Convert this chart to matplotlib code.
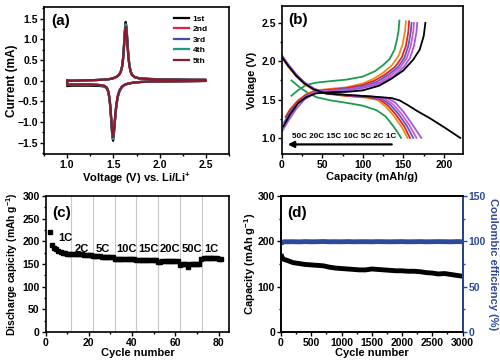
import numpy as np
import matplotlib
matplotlib.use("Agg")
import matplotlib.pyplot as plt
from matplotlib.ticker import MultipleLocator

plt.rcParams['font.family'] = ['Liberation Sans', 'DejaVu Sans']
plt.rcParams['font.weight'] = 'bold'
plt.rcParams['axes.labelweight'] = 'bold'
plt.rcParams['mathtext.fontset'] = 'custom'
plt.rcParams['mathtext.rm'] = 'Liberation Sans:bold'
plt.rcParams['mathtext.default'] = 'rm'

# ---------------- (a) CV data ----------------
cv_labels = ["1st", "2nd", "3rd", "4th", "5th"]
cv_colors = ["#000000", "#E8203C", "#3F4FA8", "#1E9A88", "#8A1A2E"]
VA = [1.00, 1.10, 1.20, 1.30, 1.40, 1.46, 1.50, 1.54, 1.56, 1.58, 1.595, 1.605, 1.615, 1.625,
      1.633, 1.642, 1.652, 1.662, 1.672, 1.685, 1.70, 1.73, 1.78, 1.88, 2.00, 2.15, 2.30, 2.50]
VC = [2.50, 2.30, 2.10, 1.90, 1.80, 1.72, 1.66, 1.62, 1.59, 1.565, 1.545, 1.53, 1.517, 1.506,
      1.497, 1.489, 1.480, 1.470, 1.459, 1.446, 1.43, 1.40, 1.34, 1.25, 1.15, 1.06, 1.01, 1.00]
IA = [
    [0.00, 0.00, 0.01, 0.015, 0.025, 0.04, 0.06, 0.10, 0.14, 0.22, 0.36, 0.56, 0.88, 1.24,
     1.42, 1.30, 0.95, 0.62, 0.40, 0.24, 0.15, 0.09, 0.06, 0.045, 0.035, 0.03, 0.025, 0.02],
    [0.00, 0.00, 0.01, 0.015, 0.025, 0.04, 0.06, 0.10, 0.14, 0.21, 0.34, 0.52, 0.82, 1.16,
     1.31, 1.20, 0.88, 0.58, 0.38, 0.23, 0.14, 0.085, 0.055, 0.04, 0.03, 0.025, 0.02, 0.02],
    [0.00, 0.00, 0.01, 0.015, 0.025, 0.04, 0.06, 0.10, 0.14, 0.22, 0.35, 0.54, 0.85, 1.20,
     1.37, 1.25, 0.92, 0.60, 0.39, 0.235, 0.145, 0.087, 0.057, 0.042, 0.032, 0.027, 0.022, 0.02],
    [0.00, 0.00, 0.01, 0.015, 0.025, 0.04, 0.06, 0.10, 0.14, 0.22, 0.35, 0.54, 0.84, 1.19,
     1.35, 1.24, 0.91, 0.60, 0.39, 0.235, 0.145, 0.087, 0.057, 0.042, 0.032, 0.027, 0.022, 0.02],
    [0.00, 0.00, 0.01, 0.015, 0.025, 0.04, 0.06, 0.10, 0.14, 0.21, 0.34, 0.52, 0.82, 1.15,
     1.30, 1.19, 0.87, 0.57, 0.37, 0.225, 0.14, 0.085, 0.055, 0.04, 0.03, 0.025, 0.02, 0.02],
]
IC = [
    [-0.005, -0.01, -0.015, -0.02, -0.03, -0.045, -0.07, -0.10, -0.16, -0.26, -0.42, -0.66, -0.98, -1.28,
     -1.45, -1.36, -1.08, -0.74, -0.46, -0.28, -0.19, -0.14, -0.125, -0.12, -0.12, -0.12, -0.125, -0.13],
    [-0.005, -0.01, -0.015, -0.02, -0.03, -0.045, -0.07, -0.10, -0.15, -0.24, -0.39, -0.62, -0.92, -1.20,
     -1.37, -1.29, -1.02, -0.70, -0.43, -0.26, -0.17, -0.12, -0.10, -0.09, -0.09, -0.09, -0.095, -0.10],
    [-0.005, -0.01, -0.015, -0.02, -0.03, -0.045, -0.07, -0.10, -0.15, -0.25, -0.40, -0.64, -0.95, -1.24,
     -1.41, -1.33, -1.05, -0.72, -0.44, -0.27, -0.175, -0.125, -0.105, -0.095, -0.095, -0.095, -0.10, -0.105],
    [-0.005, -0.01, -0.015, -0.02, -0.03, -0.045, -0.07, -0.10, -0.15, -0.25, -0.40, -0.63, -0.94, -1.23,
     -1.40, -1.32, -1.04, -0.71, -0.44, -0.27, -0.175, -0.125, -0.105, -0.095, -0.095, -0.095, -0.10, -0.105],
    [-0.005, -0.01, -0.015, -0.02, -0.03, -0.045, -0.07, -0.10, -0.15, -0.24, -0.39, -0.61, -0.91, -1.19,
     -1.36, -1.28, -1.01, -0.69, -0.43, -0.26, -0.17, -0.12, -0.10, -0.09, -0.09, -0.09, -0.095, -0.10],
]

# ---------------- (b) charge / discharge ----------------
rates = ["1C", "2C", "5C", "10C", "15C", "20C", "50C"]
rate_colors = ["#000000", "#9A5CE0", "#E050C8", "#4A5FD0", "#E8201E", "#F08A1E", "#1E9A50"]
dis_cap = [
    [0, 8, 18, 28, 40, 55, 80, 110, 135, 145, 155, 167, 182, 200, 220],
    [0, 8, 18, 28, 40, 55, 80, 110, 130, 140, 150, 160, 172],
    [0, 8, 18, 28, 40, 55, 80, 110, 127, 137, 147, 157, 166],
    [0, 8, 18, 28, 40, 55, 80, 108, 124, 134, 144, 154, 162],
    [0, 8, 18, 28, 40, 55, 80, 106, 121, 131, 141, 151, 158],
    [0, 8, 18, 28, 40, 55, 80, 104, 118, 128, 138, 148, 155],
    [12, 22, 32, 43, 60, 84, 100, 117, 128, 137, 143, 147],
]
dis_v = [
    [2.06, 1.94, 1.81, 1.71, 1.63, 1.58, 1.56, 1.54, 1.52, 1.49, 1.43, 1.35, 1.26, 1.14, 1.00],
    [2.08, 1.96, 1.83, 1.72, 1.64, 1.585, 1.56, 1.54, 1.52, 1.46, 1.34, 1.19, 1.00],
    [2.08, 1.95, 1.82, 1.72, 1.64, 1.585, 1.56, 1.54, 1.51, 1.44, 1.32, 1.17, 1.00],
    [2.07, 1.95, 1.82, 1.72, 1.64, 1.58, 1.555, 1.535, 1.505, 1.43, 1.31, 1.16, 1.00],
    [2.06, 1.94, 1.81, 1.71, 1.63, 1.58, 1.55, 1.53, 1.50, 1.42, 1.30, 1.15, 1.00],
    [2.05, 1.93, 1.80, 1.70, 1.62, 1.575, 1.545, 1.525, 1.495, 1.41, 1.29, 1.14, 1.00],
    [1.75, 1.66, 1.59, 1.53, 1.49, 1.45, 1.42, 1.36, 1.28, 1.16, 1.07, 1.00],
]
chg_cap = [
    [2, 10, 20, 30, 42, 60, 80, 100, 120, 135, 150, 162, 170, 175, 177],
    [0, 8, 18, 28, 40, 60, 80, 100, 122, 137, 150, 158, 163, 166, 167],
    [2, 10, 20, 30, 42, 60, 80, 100, 120, 134, 146, 154, 159, 162, 163],
    [3, 10, 20, 30, 42, 60, 80, 100, 117, 131, 143, 151, 156, 159, 160],
    [5, 10, 20, 30, 42, 60, 80, 100, 115, 128, 140, 148, 153, 156, 157],
    [5, 10, 20, 30, 42, 60, 80, 100, 113, 125, 136, 144, 149, 152, 153],
    [12, 20, 30, 42, 60, 80, 100, 115, 125, 133, 139, 142, 144, 145],
]
chg_v = [
    [1.15, 1.30, 1.45, 1.53, 1.58, 1.595, 1.60, 1.62, 1.68, 1.77, 1.88, 2.02, 2.15, 2.33, 2.50],
    [1.08, 1.22, 1.38, 1.50, 1.58, 1.605, 1.62, 1.65, 1.71, 1.80, 1.92, 2.04, 2.20, 2.38, 2.50],
    [1.15, 1.30, 1.45, 1.54, 1.60, 1.615, 1.63, 1.66, 1.72, 1.81, 1.92, 2.04, 2.20, 2.38, 2.50],
    [1.20, 1.33, 1.46, 1.55, 1.60, 1.62, 1.64, 1.67, 1.73, 1.82, 1.92, 2.04, 2.20, 2.38, 2.50],
    [1.27, 1.36, 1.48, 1.56, 1.61, 1.63, 1.65, 1.69, 1.75, 1.83, 1.93, 2.05, 2.20, 2.38, 2.52],
    [1.28, 1.37, 1.49, 1.57, 1.62, 1.64, 1.66, 1.71, 1.77, 1.85, 1.95, 2.07, 2.22, 2.40, 2.52],
    [1.55, 1.62, 1.69, 1.72, 1.74, 1.76, 1.80, 1.87, 1.95, 2.03, 2.15, 2.28, 2.40, 2.53],
]

# ---------------- (c) rate capability ----------------
rate_cycles = list(range(2, 82))
rate_capacity = [
    220, 193, 186, 182, 179, 177, 175, 174, 173, 172,
    173, 173, 172, 172, 171, 171, 170, 170, 169, 169,
    168, 167, 167, 167, 166, 166, 166, 166, 165, 165,
    162, 162, 162, 162, 161, 161, 161, 161, 160, 160,
    159, 159, 159, 159, 158, 158, 159, 159, 158, 158,
    155, 155, 156, 156, 156, 157, 157, 156, 156, 156,
    147, 149, 150, 150, 144, 149, 150, 150, 150, 151,
    160, 164, 164, 164, 163, 163, 163, 163, 162, 162,
]
rate_boundaries = [11.7, 21.8, 31.9, 42.0, 52.1, 62.1, 72.2]
rate_text = ["1C", "2C", "5C", "10C", "15C", "20C", "50C", "1C"]
rate_text_x = [9, 16.8, 26.5, 37.5, 47.4, 57.4, 67.6, 76.4]
rate_text_y = [207, 183, 183, 183, 183, 183, 183, 183]

# ---------------- (d) long cycling ----------------
long_cycles = [0, 20, 50, 100, 200, 300, 400, 500, 600, 700, 800, 900, 1000, 1100, 1200, 1300,
               1400, 1500, 1600, 1700, 1800, 1900, 2000, 2100, 2200, 2300, 2400, 2500, 2600,
               2700, 2800, 2900, 3000]
long_capacity = [172, 163, 160, 158, 153, 151, 149, 148, 147, 146, 143, 141, 140, 139, 138, 137,
                 137, 139, 138, 137, 136, 135, 135, 134, 134, 133, 131, 130, 128, 129, 127, 125, 123]
long_ce = [97, 99, 99.5, 99.5, 99.6, 99.4, 99.7, 99.5, 99.6, 99.8, 99.5, 99.6, 99.5, 99.7, 99.5, 99.6,
           99.6, 99.5, 99.7, 99.6, 99.5, 99.6, 99.7, 99.5, 99.6, 99.7, 99.5, 99.6, 99.7, 99.6, 99.5, 99.7, 99.6]

BLUE = "#2C4A9C"
TICK_FS = 7.5
LAB_FS = 8

fig = plt.figure(figsize=(5.0, 3.61), dpi=100)
W, H = 500.0, 361.0
axA = fig.add_axes([44 / W, 1 - 154 / H, 185 / W, 147 / H])
axB = fig.add_axes([281.7 / W, 1 - 154 / H, 181 / W, 148 / H])
axC = fig.add_axes([45.5 / W, 1 - 332 / H, 184 / W, 136 / H])
axD = fig.add_axes([281 / W, 1 - 332 / H, 181.5 / W, 136 / H])


def style(ax):
    for s in ax.spines.values():
        s.set_linewidth(1.2)
    ax.tick_params(which='both', direction='out', top=False, right=False, labelsize=TICK_FS,
                   width=1, pad=1.5)
    ax.tick_params(which='major', length=2.8)
    ax.tick_params(which='minor', length=1.6)
    for lab in ax.get_xticklabels() + ax.get_yticklabels():
        lab.set_fontweight('bold')


def place_labels(ax, xl_y, yl_x):
    ax.xaxis.set_label_coords(0.5, xl_y)
    ax.xaxis.label.set_va('center')
    ax.yaxis.set_label_coords(yl_x, 0.5)
    ax.yaxis.label.set_va('center')


# (a)
for i in range(5):
    xs = VA + VC + [VA[0]]
    ys = IA[i] + IC[i] + [IA[i][0]]
    axA.plot(xs, ys, color=cv_colors[i], lw=1.6, label=cv_labels[i])
axA.set_xlim(0.75, 2.75)
axA.set_ylim(-1.77, 1.78)
axA.xaxis.set_major_locator(MultipleLocator(0.5))
axA.xaxis.set_minor_locator(MultipleLocator(0.25))
axA.yaxis.set_major_locator(MultipleLocator(0.5))
axA.yaxis.set_minor_locator(MultipleLocator(0.25))
axA.set_xlabel("Voltage (V) vs. Li/Li$^{+}$", fontsize=LAB_FS)
axA.set_ylabel("Current (mA)", fontsize=8.5)
place_labels(axA, (154 - 178.5) / 147, (12.5 - 44) / 185)
axA.text(0.04, 0.955, "(a)", transform=axA.transAxes, fontsize=11, fontweight='bold', va='top', ha='left')
axA.legend(loc='upper left', bbox_to_anchor=(0.685, 0.97), frameon=False,
           handlelength=1.75, handletextpad=0.45, labelspacing=0.32, borderaxespad=0,
           prop={'weight': 'bold', 'size': 6})
style(axA)

# (b)
for i in range(len(rates) - 1, -1, -1):
    axB.plot(chg_cap[i], chg_v[i], color=rate_colors[i], lw=1.3)
    axB.plot(dis_cap[i], dis_v[i], color=rate_colors[i], lw=1.3)
axB.set_xlim(0, 223)
axB.set_ylim(0.79, 2.72)
axB.xaxis.set_major_locator(MultipleLocator(50))
axB.xaxis.set_minor_locator(MultipleLocator(25))
axB.yaxis.set_major_locator(MultipleLocator(0.5))
axB.yaxis.set_minor_locator(MultipleLocator(0.25))
axB.set_xlabel("Capacity (mAh/g)", fontsize=LAB_FS)
axB.set_ylabel("Voltage (V)", fontsize=LAB_FS)
place_labels(axB, (154 - 177.5) / 148, (252 - 281.7) / 181)
axB.text(0.035, 0.955, "(b)", transform=axB.transAxes, fontsize=11, fontweight='bold', va='top', ha='left')
axB.annotate("", xy=(4, 0.915), xytext=(139, 0.915),
             arrowprops=dict(arrowstyle='-|>', color='black', lw=1.6, mutation_scale=9))
axB.text(77, 0.975, " ".join(rates[::-1]), fontsize=5.8, fontweight='bold', ha='center', va='bottom')
style(axB)

# (c)
for bx in rate_boundaries:
    axC.axvline(bx, color='#C8C8C8', lw=0.8, zorder=0)
axC.plot(rate_cycles, rate_capacity, 's', color='black', ms=2.7)
for t, x, y in zip(rate_text, rate_text_x, rate_text_y):
    axC.text(x, y, t, fontsize=8, fontweight='bold', ha='center', va='center')
axC.set_xlim(0, 85)
axC.set_ylim(0, 300)
axC.xaxis.set_major_locator(MultipleLocator(20))
axC.xaxis.set_minor_locator(MultipleLocator(10))
axC.yaxis.set_major_locator(MultipleLocator(50))
axC.yaxis.set_minor_locator(MultipleLocator(25))
axC.set_xlabel("Cycle number", fontsize=LAB_FS)
axC.set_ylabel("Discharge capicity (mAh g$^{-1}$)", fontsize=7.5)
place_labels(axC, (332 - 352.5) / 136, (12 - 45.5) / 184)
axC.text(0.035, 0.93, "(c)", transform=axC.transAxes, fontsize=11, fontweight='bold', va='top', ha='left')
style(axC)

# (d)
axD.plot(long_cycles, long_capacity, color='black', lw=3.5, solid_capstyle='butt')
axD.set_xlim(0, 3000)
axD.set_ylim(0, 300)
axD.xaxis.set_major_locator(MultipleLocator(500))
axD.xaxis.set_minor_locator(MultipleLocator(250))
axD.yaxis.set_major_locator(MultipleLocator(100))
axD.yaxis.set_minor_locator(MultipleLocator(50))
axD.set_xlabel("Cycle number", fontsize=LAB_FS)
axD.set_ylabel("Capacity (mAh g$^{-1}$)", fontsize=LAB_FS)
place_labels(axD, (332 - 352.5) / 136, (250.5 - 281) / 181.5)
axD.text(0.035, 0.93, "(d)", transform=axD.transAxes, fontsize=11, fontweight='bold', va='top', ha='left')
style(axD)
axD2 = axD.twinx()
axD2.plot(long_cycles, long_ce, color=BLUE, lw=3.5, solid_capstyle='butt')
axD2.set_ylim(0, 150)
axD2.yaxis.set_major_locator(MultipleLocator(50))
axD2.yaxis.set_minor_locator(MultipleLocator(25))
for s in axD2.spines.values():
    s.set_linewidth(1.2)
axD2.spines['right'].set_color(BLUE)
axD2.tick_params(which='both', direction='out', colors=BLUE, labelsize=TICK_FS, width=1, pad=1.5)
axD2.tick_params(which='major', length=2.8)
axD2.tick_params(which='minor', length=1.6)
for lab in axD2.get_yticklabels():
    lab.set_fontweight('bold')
axD2.set_ylabel("Coulombic efficiency (%)", fontsize=LAB_FS, color=BLUE, rotation=270)
axD2.yaxis.set_label_coords((493 - 281) / 181.5, 0.5)
axD2.yaxis.label.set_va('center')

fig.savefig("out.png", dpi=100)
